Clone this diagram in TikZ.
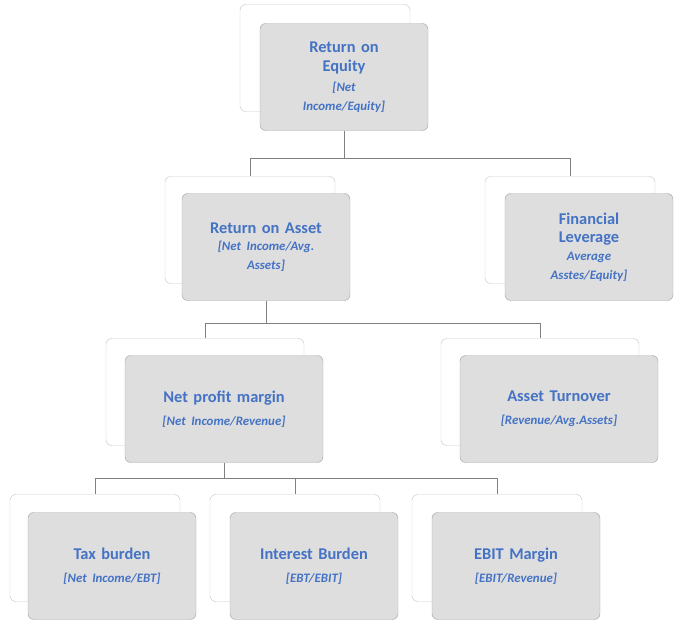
\documentclass[tikz,border=0pt]{standalone}
\usepackage{fontspec}
\setmainfont{Carlito}
\usetikzlibrary{positioning,calc}
\definecolor{ratioblue}{RGB}{68,114,196}
\definecolor{boxgray}{RGB}{222,222,222}
\definecolor{edgegray}{RGB}{170,170,170}
\newcommand{\ratiosub}{\fontsize{11}{13}\selectfont\bfseries\itshape}
\begin{document}
\begin{tikzpicture}[x=0.03cm,y=-0.03cm,
	backbox/.style={draw=edgegray!60, fill=white, rounded corners=5pt, minimum width=170*0.03cm, minimum height=107*0.03cm},
	frontbox/.style={draw=edgegray, fill=boxgray, rounded corners=5pt, minimum width=168*0.03cm, minimum height=107*0.03cm, text=ratioblue, align=center, font=\fontsize{14}{16}\selectfont\bfseries},
	widebox/.style={minimum width=198*0.03cm},
	link/.style={draw=gray, line width=0.6pt}]
\useasboundingbox (0,0) rectangle (700,634);
% top
\node[backbox] (roeB) at (325,58) {};
\node[frontbox, text width=130*0.03cm] (roe) at (344,77) {Return on\\Equity\\[4pt]{\ratiosub [Net\\Income/Equity]}};
% second level
\node[backbox] (roaB) at (250,230) {};
\node[frontbox, text width=150*0.03cm] (roa) at (266,247) {Return on Asset\\[2pt]{\ratiosub [Net Income/Avg.\\Assets]}};
\node[backbox] (flB) at (570,230) {};
\node[frontbox, text width=140*0.03cm] (fl) at (589,247) {Financial\\Leverage\\[2pt]{\ratiosub Average\\Asstes/Equity]}};
% third level
\node[backbox, widebox] (npmB) at (205,392) {};
\node[frontbox, widebox, text width=190*0.03cm] (npm) at (224,409) {Net profit margin\\[4pt]{\ratiosub [Net Income/Revenue]}};
\node[backbox, widebox] (atB) at (540,392) {};
\node[frontbox, widebox, text width=190*0.03cm] (at) at (559,409) {Asset Turnover\\[4pt]{\ratiosub [Revenue/Avg.Assets]}};
% fourth level
\node[backbox] (taxB) at (95,548) {};
\node[frontbox, text width=160*0.03cm] (tax) at (112,566) {Tax burden\\[4pt]{\ratiosub [Net Income/EBT]}};
\node[backbox] (ibB) at (295,548) {};
\node[frontbox, text width=160*0.03cm] (ib) at (314,566) {Interest Burden\\[4pt]{\ratiosub [EBT/EBIT]}};
\node[backbox] (ebB) at (497,548) {};
\node[frontbox, text width=160*0.03cm] (eb) at (516,566) {EBIT Margin\\[4pt]{\ratiosub [EBIT/Revenue]}};
% connectors
\coordinate (j1) at (344,158);
\coordinate (j2) at (266,323);
\coordinate (j3) at (224,478);
\draw[link] (roe.south) -- (j1) (roaB.north |- j1) -- (flB.north |- j1);
\draw[link] (roaB.north |- j1) -- (roaB.north) (flB.north |- j1) -- (flB.north);
\draw[link] (roa.south) -- (j2) (npmB.north |- j2) -- (atB.north |- j2);
\draw[link] (npmB.north |- j2) -- (npmB.north) (atB.north |- j2) -- (atB.north);
\draw[link] (npm.south) -- (j3) (taxB.north |- j3) -- (ebB.north |- j3);
\foreach \b in {taxB,ibB,ebB}
	\draw[link] (\b.north |- j3) -- (\b.north);
\end{tikzpicture}
\end{document}
